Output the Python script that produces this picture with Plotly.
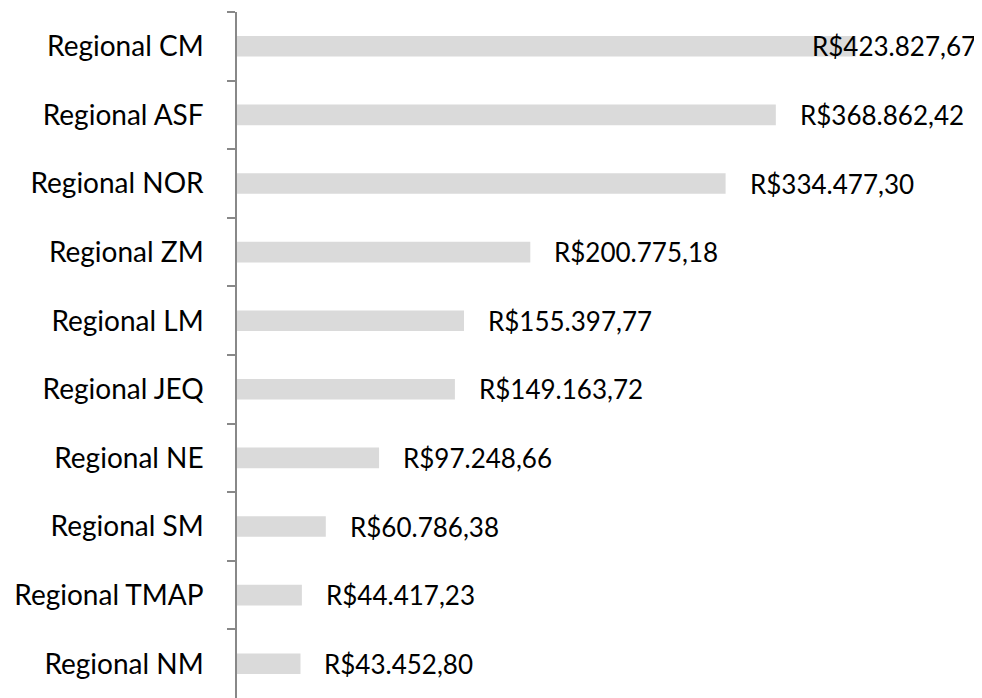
import plotly.graph_objects as go

categories = ["Regional CM", "Regional ASF", "Regional NOR", "Regional ZM", "Regional LM",
              "Regional JEQ", "Regional NE", "Regional SM", "Regional TMAP", "Regional NM"]
values = [423827.67, 368862.42, 334477.30, 200775.18, 155397.77,
          149163.72, 97248.66, 60786.38, 44417.23, 43452.80]
value_labels = ["R$423.827,67", "R$368.862,42", "R$334.477,30", "R$200.775,18", "R$155.397,77",
                "R$149.163,72", "R$97.248,66", "R$60.786,38", "R$44.417,23", "R$43.452,80"]

FONT = "Lato"
FS = 28
VFS = 26
fig = go.Figure(go.Bar(
    x=values, y=categories, orientation="h",
    marker=dict(color="#dadada", line=dict(width=0)),
    width=0.3, hoverinfo="skip",
))

xmax = 510000
annotations = []
for c, v, t in zip(categories, values, value_labels):
    if v > 0.8 * xmax:
        annotations.append(dict(x=1, xref="paper", y=c, yref="y", text=t, showarrow=False,
                                xanchor="right", xshift=-4,
                                font=dict(family=FONT, size=VFS, color="#000000")))
    else:
        annotations.append(dict(x=v, xref="x", y=c, yref="y", text=t, showarrow=False,
                                xanchor="left", xshift=22,
                                font=dict(family=FONT, size=VFS, color="#000000")))

fig.update_layout(
    width=974, height=690,
    margin=dict(l=229, r=0, t=4, b=0),
    paper_bgcolor="white", plot_bgcolor="white",
    showlegend=False,
    annotations=annotations,
    font=dict(family=FONT, size=FS, color="#000000"),
    xaxis=dict(range=[0, xmax], visible=False, showgrid=False, zeroline=False, automargin=False),
    yaxis=dict(
        categoryorder="array", categoryarray=categories, autorange="reversed",
        showline=True, linecolor="#888888", linewidth=1.5,
        ticks="outside", ticklen=8, tickcolor="#888888", tickwidth=1.5,
        tickson="boundaries", ticklabelstandoff=26, automargin=False,
        showgrid=False, zeroline=False,
        tickfont=dict(family=FONT, size=FS, color="#000000"),
    ),
)

fig.write_html("out.html")
